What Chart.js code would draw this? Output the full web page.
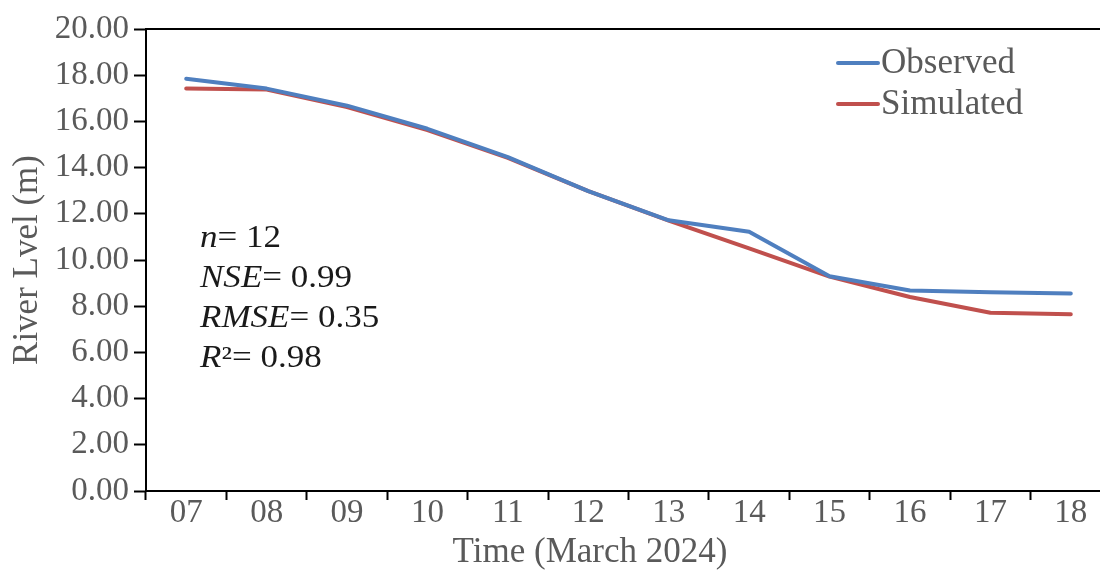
<!DOCTYPE html>
<html>
<head>
<meta charset="utf-8">
<script src="https://cdn.jsdelivr.net/npm/chart.js@4.4.1/dist/chart.umd.min.js"></script>
<style>
  html, body { margin: 0; padding: 0; background: #fff; overflow: hidden; }
  #wrap { width: 1112px; height: 570px; }
</style>
</head>
<body>
<div id="wrap"><canvas id="c" width="1112" height="570"></canvas></div>
<script>
// Daily river level, March 2024
const categories = ['07', '08', '09', '10', '11', '12', '13', '14', '15', '16', '17', '18'];
const observed  = [17.85, 17.42, 16.68, 15.68, 14.45, 12.98, 11.72, 11.22, 9.30, 8.68, 8.60, 8.55];
const simulated = [17.42, 17.38, 16.62, 15.62, 14.42, 12.98, 11.70, 10.50, 9.28, 8.40, 7.72, 7.65];
const seriesNames = ['Observed', 'Simulated'];
const statNames  = ['n', 'NSE', 'RMSE', 'R'];
const statValues = ['12', '0.99', '0.35', '0.98'];

const SERIF = '"Liberation Serif", "Times New Roman", serif';
const GREY = '#5a5a5a';
const BLUE = '#4f7fbf';
const RED = '#c0504d';

// Frame line along the top and right of the plot area
const framePlugin = {
  id: 'frame',
  afterDraw(chart) {
    const { ctx, chartArea: a } = chart;
    ctx.save();
    ctx.strokeStyle = '#000';
    ctx.lineWidth = 2;
    ctx.beginPath();
    ctx.moveTo(a.left, a.top);
    ctx.lineTo(a.right, a.top);
    ctx.lineTo(a.right, a.bottom);
    ctx.stroke();
    ctx.restore();
  }
};

// Legend in the upper right corner of the plot
const legendPlugin = {
  id: 'innerLegend',
  afterDraw(chart) {
    const { ctx, chartArea: a } = chart;
    const x0 = a.left + 692, y0 = a.top + 34, gap = 41;
    ctx.save();
    ctx.font = '35px ' + SERIF;
    ctx.textBaseline = 'middle';
    chart.data.datasets.forEach((ds, i) => {
      const y = y0 + i * gap;
      ctx.strokeStyle = ds.borderColor;
      ctx.lineWidth = 4;
      ctx.lineCap = 'round';
      ctx.beginPath();
      ctx.moveTo(x0, y);
      ctx.lineTo(x0 + 40, y);
      ctx.stroke();
      ctx.fillStyle = GREY;
      ctx.fillText(ds.label, x0 + 43, y + 1);
    });
    ctx.restore();
  }
};

// Goodness-of-fit statistics and the x-axis title
const textPlugin = {
  id: 'statsText',
  afterDraw(chart) {
    const { ctx, chartArea: a } = chart;
    ctx.save();
    ctx.textBaseline = 'alphabetic';
    ctx.fillStyle = '#1a1a1a';
    const x0 = a.left + 54;
    let y = a.top + 218;
    statNames.forEach((name, i) => {
      ctx.save();
      ctx.translate(x0, y);
      ctx.scale(1.13, 1);
      ctx.font = 'italic 31px ' + SERIF;
      ctx.fillText(name, 0, 0);
      const x = ctx.measureText(name).width;
      ctx.font = '31px ' + SERIF;
      const rest = (name === 'R' ? '\u00B2' : '') + '= ' + statValues[i];
      ctx.fillText(rest, x, 0);
      ctx.restore();
      y += 40;
    });
    ctx.fillStyle = GREY;
    ctx.font = '35px ' + SERIF;
    ctx.textAlign = 'center';
    ctx.fillText('Time (March 2024)', a.left + 444, a.bottom + 71);
    ctx.restore();
  }
};

new Chart(document.getElementById('c'), {
  type: 'line',
  data: {
    labels: categories,
    datasets: [
      { label: seriesNames[0], data: observed, borderColor: BLUE, backgroundColor: BLUE,
        borderWidth: 4, pointRadius: 0, tension: 0, borderJoinStyle: 'round', borderCapStyle: 'round' },
      { label: seriesNames[1], data: simulated, borderColor: RED, backgroundColor: RED,
        borderWidth: 4, pointRadius: 0, tension: 0, borderJoinStyle: 'round', borderCapStyle: 'round' }
    ]
  },
  options: {
    responsive: false,
    animation: false,
    layout: { padding: { top: 29, left: 0, right: 1, bottom: 0 } },
    plugins: { legend: { display: false }, tooltip: { enabled: false }, title: { display: false } },
    scales: {
      x: {
        type: 'category',
        offset: true,
        grid: { offset: true, drawOnChartArea: false, tickLength: 9, tickColor: '#000', tickWidth: 2 },
        border: { color: '#000', width: 2 },
        ticks: { color: GREY, font: { family: SERIF, size: 33 }, padding: -6, maxRotation: 0, autoSkip: false },
        afterFit(s) { s.height = 79; }
      },
      y: {
        min: 0, max: 20,
        grid: { drawOnChartArea: false, tickLength: 12, tickColor: '#000', tickWidth: 2 },
        border: { color: '#000', width: 2 },
        ticks: { stepSize: 2, color: GREY, font: { family: SERIF, size: 33 }, padding: 5,
                 callback: v => Number(v).toFixed(2) },
        title: { display: true, text: 'River Lvel (m)', color: GREY, font: { family: SERIF, size: 35 },
                 padding: { top: 7, bottom: 0 } },
        afterFit(s) { s.width = 146; }
      }
    }
  },
  plugins: [framePlugin, legendPlugin, textPlugin]
});
</script>
</body>
</html>
